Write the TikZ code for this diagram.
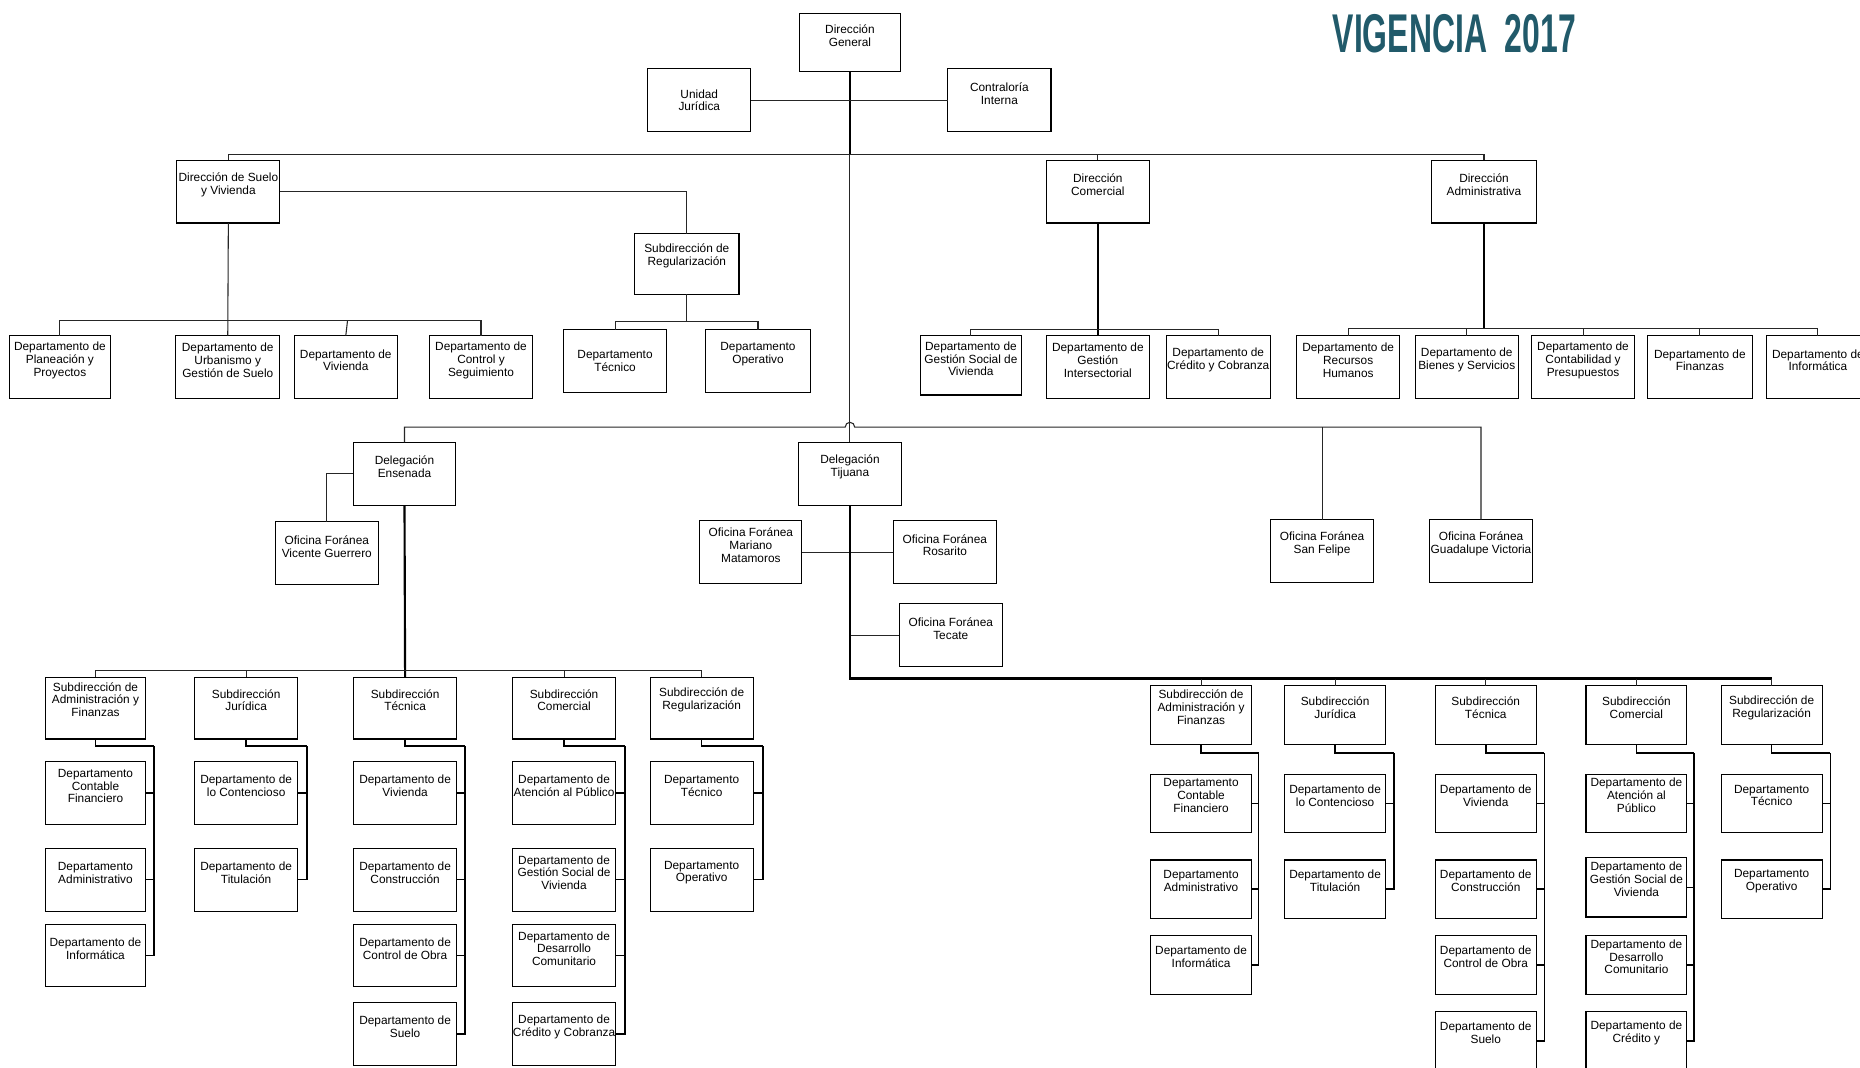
\documentclass[tikz,border=0pt]{standalone}
\usepackage{fontspec}
\setmainfont{Liberation Sans}
\newfontfamily\titlefont[FakeStretch=0.585]{Liberation Sans}
\usetikzlibrary{calc}
\definecolor{titlec}{HTML}{215A6A}
\tikzset{
  box/.style={draw=black, line width=0.9pt, fill=white, rectangle, inner sep=0pt, outer sep=0pt},
  txt/.style={align=center, font=\fontsize{10}{10.8}\selectfont, inner sep=0pt},
  conn/.style={draw=black!85, line width=0.9pt},
  thickc/.style={draw=black, line width=1.8pt},
  dconn/.style={draw=black, line width=1.3pt},
}
% #1 text position fraction, #2 name, #3 x1, #4 y1, #5 x2, #6 y2, #7 text
\newcommand{\orgbox}[7][0.39]{%
  \pgfmathsetmacro{\obw}{#5-#3}\pgfmathsetmacro{\obh}{#6-#4}%
  \pgfmathsetmacro{\obcx}{(#3+#5)/2}\pgfmathsetmacro{\obcy}{(#4+#6)/2}%
  \node[box, minimum width=\obw pt, minimum height=\obh pt] (#2) at (\obcx,\obcy) {};
  \node[txt] (#2t) at ($(#2.north)!#1!(#2.south)$) {#7};
}
% #1 subdir, #2 x of vertical, #3 y of bend, #4 list of departments
\newcommand{\deptlink}[4]{%
  \draw[dconn] (#1.south) -- (#1.south |- 0,#3) -- (#2,#3);
  \foreach \dd in {#4} { \draw[dconn] (#2,#3) |- (\dd.east); }
}
\begin{document}
\begin{tikzpicture}[x=1pt,y=-1pt]
\fill[white] (0,0) rectangle (1568,900);
\useasboundingbox (0,0) rectangle (1568,900);
\clip (0,0) rectangle (1568,900);

\node[font=\titlefont\bfseries\fontsize{46}{46}\selectfont, text=titlec, inner sep=0pt] (title) at (1226,28) {VIGENCIA\ \ 2017};

% ---------- top level ----------
\orgbox{dg}{674}{11}{759}{60}{Dirección\\General}
\orgbox[0.5]{uj}{546}{58}{633}{111}{Unidad\\Jurídica}
\orgbox{ci}{799}{58}{886}{111}{Contraloría\\Interna}
\orgbox{dsv}{149}{135}{236}{188}{Dirección de Suelo\\y Vivienda}
\orgbox{dc}{882}{135}{969}{188}{Dirección\\Comercial}
\orgbox{da}{1207}{135}{1295}{188}{Dirección\\Administrativa}
\orgbox[0.37]{sr0}{535}{197}{623}{248}{Subdirección de\\Regularización}

\orgbox{dpp}{8}{283}{93}{336}{Departamento de\\Planeación y\\Proyectos}
\orgbox{dug}{148}{283}{236}{336}{Departamento de\\Urbanismo y\\Gestión de Suelo}
\orgbox{dv0}{248}{283}{335}{336}{Departamento de\\Vivienda}
\orgbox{dcs}{362}{283}{449}{336}{Departamento de\\Control y\\Seguimiento}
\orgbox[0.5]{dt0}{475}{278}{562}{331}{Departamento\\Técnico}
\orgbox{do0}{595}{278}{683}{331}{Departamento\\Operativo}

\orgbox{dgs}{776}{283}{861}{333}{Departamento de\\Gestión Social de\\Vivienda}
\orgbox{dgi}{882}{283}{969}{336}{Departamento de\\Gestión\\Intersectorial}
\orgbox{dcc}{983}{283}{1071}{336}{Departamento de\\Crédito y Cobranza}

\orgbox{drh}{1093}{283}{1180}{336}{Departamento de\\Recursos\\Humanos}
\orgbox{dbs}{1193}{283}{1280}{336}{Departamento de\\Bienes y Servicios}
\orgbox{dcp}{1291}{283}{1378}{336}{Departamento de\\Contabilidad y\\Presupuestos}
\orgbox{dfi}{1389}{283}{1477}{336}{Departamento de\\Finanzas}
\orgbox{dinf}{1489}{283}{1576}{336}{Departamento de\\Informática}

% top connectors
\draw[thickc] (dg.south) -- (dg.south |- 0,130);
\draw[conn] (uj.east) -- (ci.west);
\draw[conn] (dsv.north) -- (dsv.north |- 0,130) -- (da.north |- 0,130) -- (da.north);
\draw[conn] (dc.north) -- (dc.north |- 0,130);
\draw[conn] (dsv.east) -| (sr0.north);
\draw[conn] (dsv.south) -- (dug.north);
\draw[conn] (dpp.north) -- (dpp.north |- 0,270) -- (dcs.north |- 0,270) -- (dcs.north);
\draw[conn] (dv0.north) -- (293,270);
\draw[conn] (sr0.south) -- (sr0.south |- 0,271);
\draw[conn] (dt0.north) -- (dt0.north |- 0,271) -- (do0.north |- 0,271) -- (do0.north);
\draw[thickc] (dc.south) -- (dgi.north);
\draw[conn] (dgs.north) -- (dgs.north |- 0,278) -- (dcc.north |- 0,278) -- (dcc.north);
\draw[thickc] (da.south) -- (da.south |- 0,277);
\draw[conn] (drh.north) -- (drh.north |- 0,277) -- (dinf.north |- 0,277) -- (dinf.north);
\foreach \nn in {dbs,dcp,dfi} { \draw[conn] (\nn.north) -- (\nn.north |- 0,277); }

% ---------- delegations ----------
\orgbox{ens}{298}{373}{384}{426}{Delegación\\Ensenada}
\orgbox{ovg}{232}{440}{319}{493}{Oficina Foránea\\Vicente Guerrero}
\orgbox{dtj}{673}{373}{760}{426}{Delegación\\Tijuana}
\orgbox{omm}{590}{439}{676}{492}{Oficina Foránea\\Mariano\\Matamoros}
\orgbox{oro}{753}{439}{840}{492}{Oficina Foránea\\Rosarito}
\orgbox{ote}{758}{509}{845}{562}{Oficina Foránea\\Tecate}
\orgbox{osf}{1071}{438}{1158}{491}{Oficina Foránea\\San Felipe}
\orgbox{ogv}{1205}{438}{1292}{491}{Oficina Foránea\\Guadalupe Victoria}

\draw[conn] (dg.south |- 0,130) -- (dtj.north);
\draw[conn] (ens.north) -- (ens.north |- 0,360) -- (712.5,360)
  arc[start angle=180, end angle=360, radius=4] -- (ogv.north |- 0,360) -- (ogv.north);
\draw[conn] (osf.north) -- (osf.north |- 0,360);
\draw[conn] (ens.west) -| (ovg.north);
\draw[conn] (omm.east) -- (oro.west);
\draw[conn] (dtj.south |- ote.west) -- (ote.west);

% ---------- Ensenada subdirections ----------
\orgbox[0.36]{ea}{38}{571}{123}{623}{Subdirección de\\Administración y\\Finanzas}
\orgbox[0.37]{ej}{164}{571}{251}{623}{Subdirección\\Jurídica}
\orgbox[0.37]{et}{298}{571}{385}{623}{Subdirección\\Técnica}
\orgbox[0.37]{ec}{432}{571}{519}{623}{Subdirección\\Comercial}
\orgbox[0.37]{er}{548}{571}{635}{623}{Subdirección de\\Regularización}

\draw[thickc] (ens.south) -- (et.north);
\draw[conn] (ea.north) -- (ea.north |- 0,565) -- (er.north |- 0,565) -- (er.north);
\foreach \nn in {ej,ec} { \draw[conn] (\nn.north) -- (\nn.north |- 0,565); }

\orgbox{eacf}{38}{642}{123}{695}{Departamento\\Contable\\Financiero}
\orgbox{eaad}{38}{715}{123}{768}{Departamento\\Administrativo}
\orgbox{eain}{38}{779}{123}{832}{Departamento de\\Informática}
\orgbox{ejlc}{164}{642}{251}{695}{Departamento de\\lo Contencioso}
\orgbox{ejti}{164}{715}{251}{768}{Departamento de\\Titulación}
\orgbox{etvi}{298}{642}{385}{695}{Departamento de\\Vivienda}
\orgbox{etco}{298}{715}{385}{768}{Departamento de\\Construcción}
\orgbox{etcb}{298}{779}{385}{832}{Departamento de\\Control de Obra}
\orgbox{etsu}{298}{845}{385}{898}{Departamento de\\Suelo}
\orgbox{ecap}{432}{642}{519}{695}{Departamento de\\Atención al Público}
\orgbox{ecgs}{432}{715}{519}{768}{Departamento de\\Gestión Social de\\Vivienda}
\orgbox{ecdc}{432}{779}{519}{832}{Departamento de\\Desarrollo\\Comunitario}
\orgbox{eccc}{432}{845}{519}{898}{Departamento de\\Crédito y Cobranza}
\orgbox{erte}{548}{642}{635}{695}{Departamento\\Técnico}
\orgbox{erop}{548}{715}{635}{768}{Departamento\\Operativo}

\deptlink{ea}{130}{629}{eacf,eaad,eain}
\deptlink{ej}{259}{629}{ejlc,ejti}
\deptlink{et}{392}{629}{etvi,etco,etcb,etsu}
\deptlink{ec}{527}{629}{ecap,ecgs,ecdc,eccc}
\deptlink{er}{643}{629}{erte,erop}

% ---------- Tijuana subdirections ----------
\orgbox[0.36]{ta}{970}{578}{1055}{628}{Subdirección de\\Administración y\\Finanzas}
\orgbox[0.37]{tj}{1083}{578}{1168}{628}{Subdirección\\Jurídica}
\orgbox[0.37]{tt}{1210}{578}{1295}{628}{Subdirección\\Técnica}
\orgbox[0.37]{tc}{1337}{578}{1422}{628}{Subdirección\\Comercial}
\orgbox[0.37]{tr}{1451}{578}{1536}{628}{Subdirección de\\Regularización}

\draw[thickc] (dtj.south) -- (dtj.south |- 0,572) -- (tr.north |- 0,572);
\draw[conn] (tr.north |- 0,572) -- (tr.north);
\foreach \nn in {ta,tj,tt,tc} { \draw[conn] (\nn.north) -- (\nn.north |- 0,572); }

\orgbox[0.36]{tacf}{970}{653}{1055}{702}{Departamento\\Contable\\Financiero}
\orgbox[0.36]{taad}{970}{725}{1055}{774}{Departamento\\Administrativo}
\orgbox[0.36]{tain}{970}{789}{1055}{838}{Departamento de\\Informática}
\orgbox[0.36]{tjlc}{1083}{653}{1168}{702}{Departamento de\\lo Contencioso}
\orgbox[0.36]{tjti}{1083}{725}{1168}{774}{Departamento de\\Titulación}
\orgbox[0.36]{ttvi}{1210}{653}{1295}{702}{Departamento de\\Vivienda}
\orgbox[0.36]{ttco}{1210}{725}{1295}{774}{Departamento de\\Construcción}
\orgbox[0.36]{ttcb}{1210}{789}{1295}{838}{Departamento de\\Control de Obra}
\orgbox[0.36]{ttsu}{1210}{853}{1295}{902}{Departamento de\\Suelo}
\orgbox[0.36]{tcap}{1337}{653}{1422}{702}{Departamento de\\Atención al\\Público}
\orgbox[0.36]{tcgs}{1337}{723}{1422}{773}{Departamento de\\Gestión Social de\\Vivienda}
\orgbox[0.36]{tcdc}{1337}{789}{1422}{838}{Departamento de\\Desarrollo\\Comunitario}
\orgbox[0.36]{tccc}{1337}{853}{1422}{902}{Departamento de\\Crédito y}
\orgbox[0.36]{trte}{1451}{653}{1536}{702}{Departamento\\Técnico}
\orgbox[0.36]{trop}{1451}{725}{1536}{774}{Departamento\\Operativo}

\deptlink{ta}{1061}{635}{tacf,taad,tain}
\deptlink{tj}{1175}{635}{tjlc,tjti}
\deptlink{tt}{1302}{635}{ttvi,ttco,ttcb,ttsu}
\deptlink{tc}{1428}{635}{tcap,tcgs,tcdc,tccc}
\deptlink{tr}{1543}{635}{trte,trop}
\end{tikzpicture}
\end{document}
